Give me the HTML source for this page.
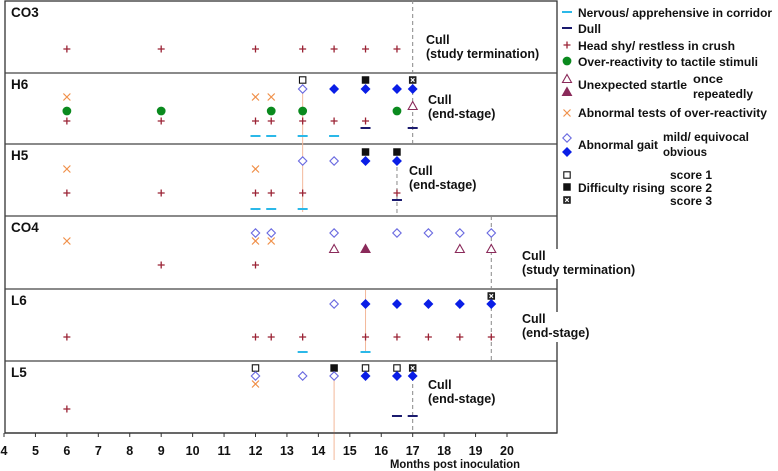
<!DOCTYPE html>
<html><head><meta charset="utf-8"><style>
html,body{margin:0;padding:0;background:#fff;}
svg{display:block;font-family:"Liberation Sans",Arial,sans-serif;font-weight:bold;}
</style></head><body>
<svg id="c" width="778" height="471" viewBox="0 0 778 471" xmlns="http://www.w3.org/2000/svg">
<g id="frame"></g>
<g id="marks"></g>
<g id="axis"></g>
<g id="legend"></g>
</svg>
<script>
// axis data
const tickLabels = [4,5,6,7,8,9,10,11,12,13,14,15,16,17,18,19,20];
const panelNames = ["CO3","H6","H5","CO4","L6","L5"];
// per-panel event months by sign
const co3HeadShy = [6,9,12,13.5,14.5,15.5,16.5];
const co3Cull = 17;
const h6Rise1 = [13.5], h6Rise2 = [15.5], h6Rise3 = [17];
const h6GaitMild = [13.5], h6GaitObv = [14.5,15.5,16.5,17];
const h6Abn = [6,12,12.5];
const h6StartleOnce = [17];
const h6Tactile = [6,9,12.5,13.5,16.5];
const h6HeadShy = [6,9,12,12.5,13.5,14.5,15.5];
const h6Dull = [15.5,17];
const h6Nervous = [12,12.5,13.5,14.5];
const h6Cull = 17;
const h5Rise2 = [15.5,16.5];
const h5GaitMild = [13.5,14.5], h5GaitObv = [15.5,16.5];
const h5Abn = [6,12];
const h5HeadShy = [6,9,12,12.5,13.5,16.5];
const h5Dull = [16.5];
const h5Nervous = [12,12.5,13.5];
const h5Cull = 16.5;
const co4GaitMild = [12,12.5,14.5,16.5,17.5,18.5,19.5];
const co4Abn = [6,12,12.5];
const co4StartleOnce = [14.5,18.5,19.5], co4StartleRep = [15.5];
const co4HeadShy = [9,12];
const co4Cull = 19.5;
const l6Rise3 = [19.5];
const l6GaitMild = [14.5], l6GaitObv = [15.5,16.5,17.5,18.5,19.5];
const l6HeadShy = [6,12,12.5,13.5,15.5,16.5,17.5,18.5,19.5];
const l6Nervous = [13.5,15.5];
const l6Cull = 19.5;
const l5Rise1 = [12,15.5,16.5], l5Rise2 = [14.5], l5Rise3 = [17];
const l5GaitMild = [12,13.5,14.5], l5GaitObv = [15.5,16.5,17];
const l5Abn = [12];
const l5HeadShy = [6];
const l5Dull = [16.5,17];
const l5Cull = 17;

const X0=4, PX0=4, PX1=507;
function xs(m){return PX0+(m-X0)*(PX1-PX0)/16;}
const NS="http://www.w3.org/2000/svg";
function el(tag,attrs,parent,name,inter){
  const e=document.createElementNS(NS,tag);
  for(const k in attrs)e.setAttribute(k,attrs[k]);
  
  
  parent.appendChild(e);return e;
}
const frame=document.getElementById('frame'),marks=document.getElementById('marks'),axis=document.getElementById('axis'),legend=document.getElementById('legend');
const tops=[1,73,144,216,289,361], bottom=433, L=5, R=557;

function plus(x,y,g){el('path',{d:`M${x-3.5},${y}h7M${x},${y-3.5}v7`,stroke:'#9b2335','stroke-width':1.3},g,'head-shy-marker');}
function cross(x,y,g){el('path',{d:`M${x-3.5},${y-3.5}l7,7M${x+3.5},${y-3.5}l-7,7`,stroke:'#f0904a','stroke-width':1.2},g,'abnormal-test-marker');}
function circ(x,y,g){el('circle',{cx:x,cy:y,r:4.4,fill:'#0a8a1e'},g,'tactile-marker');}
function dia(x,y,g,fill){el('path',{d:`M${x},${y-4.2}L${x+4.2},${y}L${x},${y+4.2}L${x-4.2},${y}Z`,fill:fill?'#0a1ee6':'#fff',stroke:fill?'#0a1ee6':'#6a6ae0','stroke-width':1.1},g,fill?'gait-obvious-marker':'gait-mild-marker');}
function tri(x,y,g,fill){el('path',{d:`M${x},${y-4.5}L${x+4.5},${y+3.5}L${x-4.5},${y+3.5}Z`,fill:fill?'#8a2a5a':'#fff',stroke:'#8a2a5a','stroke-width':1.1},g,fill?'startle-repeated-marker':'startle-once-marker');}
function sq(x,y,g,k){
  el('rect',{x:x-3.2,y:y-3.2,width:6.4,height:6.4,fill:k==2?'#111':'#fff',stroke:'#111','stroke-width':1.1},g,'rising-score'+k+'-marker');
  if(k==3){el('rect',{x:x-3.2,y:y-3.2,width:6.4,height:6.4,fill:'#222'},g,'rising-score3-fill');el('path',{d:`M${x-1.8},${y-1.8}l3.6,3.6M${x+1.8},${y-1.8}l-3.6,3.6`,stroke:'#fff','stroke-width':1.1},g,'rising-score3-x');}
}
function dash(x,y,g,col,name){el('path',{d:`M${x-5},${y}h10`,stroke:col,'stroke-width':2},g,name);}
function each(arr,y,fn,extra){arr.forEach(m=>fn(xs(m),y,marks,extra));}
function vline(m,y1,y2,col,dashd,name){const a={x1:xs(m),x2:xs(m),y1:y1,y2:y2,stroke:col,'stroke-width':1};if(dashd)a['stroke-dasharray']='4,3';el('line',a,marks,name);}
function cullText(x,y,l2,name){
  const t=el('text',{x:x,y:y,'font-size':12.5,fill:'#111'},marks,name);
  const a=el('tspan',{x:x,dy:0},t,'cull-line1');a.textContent='Cull';
  const b=el('tspan',{x:x,dy:14},t,'cull-line2');b.textContent=l2;
}

vline(co3Cull,0,144,'#888',true,'co3-h6-cull-line');
vline(13.5,88,212,'#f3b89a',false,'h6-h5-onset-line');
vline(h5Cull,160,216,'#888',true,'h5-cull-line');
vline(co4Cull,216,361,'#888',true,'co4-l6-cull-line');
vline(15.5,290,353,'#f3b89a',false,'l6-onset-line');
vline(14.5,376,460,'#f3b89a',false,'l5-onset-line');
vline(l5Cull,370,433,'#888',true,'l5-cull-line');

el('rect',{x:L,y:1,width:R-L,height:bottom-1,fill:'none',stroke:'#333','stroke-width':1.3},frame,'panel-box');
tops.slice(1).forEach(t=>el('line',{x1:L,x2:R,y1:t,y2:t,stroke:'#444','stroke-width':1.3},frame,'panel-divider'));
panelNames.forEach((n,i)=>{const t=el('text',{x:11,y:tops[i]+16,'font-size':13.5,fill:'#111'},frame,'panel-label-'+n.toLowerCase());t.textContent=n;});

let T=tops[0];
each(co3HeadShy,T+48,plus);
cullText(426,T+43,'(study termination)','co3-cull-text');
T=tops[1];
each(h6Rise1,T+7,sq,1);each(h6Rise2,T+7,sq,2);each(h6Rise3,T+7,sq,3);
each(h6GaitMild,T+16,dia,false);each(h6GaitObv,T+16,dia,true);
each(h6Abn,T+24,cross);each(h6StartleOnce,T+33,tri,false);
each(h6Tactile,T+38,circ);each(h6HeadShy,T+48,plus);
each(h6Dull,T+55,(x,y,g)=>dash(x,y,g,'#1a1a6e','dull-marker'));
each(h6Nervous,T+63,(x,y,g)=>dash(x,y,g,'#2bb8e8','nervous-marker'));
cullText(428,T+31,'(end-stage)','h6-cull-text');
T=tops[2];
each(h5Rise2,T+8,sq,2);
each(h5GaitMild,T+17,dia,false);each(h5GaitObv,T+17,dia,true);
each(h5Abn,T+25,cross);each(h5HeadShy,T+49,plus);
each(h5Dull,T+56,(x,y,g)=>dash(x,y,g,'#1a1a6e','dull-marker'));
each(h5Nervous,T+65,(x,y,g)=>dash(x,y,g,'#2bb8e8','nervous-marker'));
cullText(409,T+31,'(end-stage)','h5-cull-text');
T=tops[3];
each(co4GaitMild,T+17,dia,false);each(co4Abn,T+25,cross);
each(co4StartleOnce,T+33,tri,false);each(co4StartleRep,T+33,tri,true);
each(co4HeadShy,T+49,plus);
T=tops[4];
each(l6Rise3,T+7,sq,3);
each(l6GaitMild,T+15,dia,false);each(l6GaitObv,T+15,dia,true);
each(l6HeadShy,T+48,plus);
each(l6Nervous,T+63,(x,y,g)=>dash(x,y,g,'#2bb8e8','nervous-marker'));
T=tops[5];
each(l5Rise1,T+7,sq,1);each(l5Rise2,T+7,sq,2);each(l5Rise3,T+7,sq,3);
each(l5GaitMild,T+15,dia,false);each(l5GaitObv,T+15,dia,true);
each(l5Abn,T+23,cross);each(l5HeadShy,T+48,plus);
each(l5Dull,T+55,(x,y,g)=>dash(x,y,g,'#1a1a6e','dull-marker'));
cullText(428,T+28,'(end-stage)','l5-cull-text');

function bgCull(x,y,l2,w,name){el('rect',{x:x-2,y:y-11,width:w,height:30,fill:'#fff'},marks,name+'-bg');cullText(x,y,l2,name);}
bgCull(522,tops[3]+44,'(study termination)',100,'co4-cull-text');
bgCull(522,tops[4]+34,'(end-stage)',70,'l6-cull-text');

el('line',{x1:L,x2:R,y1:bottom,y2:bottom,stroke:'#333','stroke-width':1.3},axis,'x-axis-line');
tickLabels.forEach(v=>{
  const x=xs(v);
  el('line',{x1:x,x2:x,y1:bottom,y2:bottom+4,stroke:'#333'},axis,'x-tick');
  const t=el('text',{x:x,y:455,'font-size':12.5,'text-anchor':'middle',fill:'#111'},axis,'x-tick-label');t.textContent=v;
});
const xt=el('text',{x:390,y:468,'font-size':12,fill:'#111',textLength:130,lengthAdjust:'spacingAndGlyphs'},axis,'x-axis-title');xt.textContent='Months post inoculation';

function lt(x,y,s,name,w){const a={x:x,y:y,'font-size':11.8,fill:'#111'};if(w){a.textLength=w;a.lengthAdjust='spacingAndGlyphs';}const t=el('text',a,legend,name);t.textContent=s;}
const LX=578, MX=567;
dash(MX,12,legend,'#2bb8e8','legend-nervous-swatch');lt(LX,17,'Nervous/ apprehensive in corridor','legend-nervous',194);
dash(MX,28,legend,'#1a1a6e','legend-dull-swatch');lt(LX,33,'Dull','legend-dull',23);
plus(MX,45,legend);lt(LX,50,'Head shy/ restless in crush','legend-head-shy',157);
circ(MX,61,legend);lt(LX,66,'Over-reactivity to tactile stimuli','legend-tactile',180);
tri(MX,79,legend,false);tri(MX,92,legend,true);
lt(LX,89,'Unexpected startle','legend-startle',109);lt(693,83,'once','legend-startle-once',30);lt(693,98,'repeatedly','legend-startle-repeatedly',60);
cross(MX,113,legend);lt(LX,117,'Abnormal tests of over-reactivity','legend-abnormal-tests',189);
dia(MX,138,legend,false);dia(MX,152,legend,true);
lt(LX,149,'Abnormal gait','legend-gait',80);lt(663,141,'mild/ equivocal','legend-gait-mild',86);lt(663,156,'obvious','legend-gait-obvious',44);
sq(MX,175,legend,1);sq(MX,187,legend,2);sq(MX,200,legend,3);
lt(LX,192,'Difficulty rising','legend-rising',87);
lt(670,179,'score 1','legend-score1',42);lt(670,192,'score 2','legend-score2',42);lt(670,205,'score 3','legend-score3',42);
</script>
</body></html>
